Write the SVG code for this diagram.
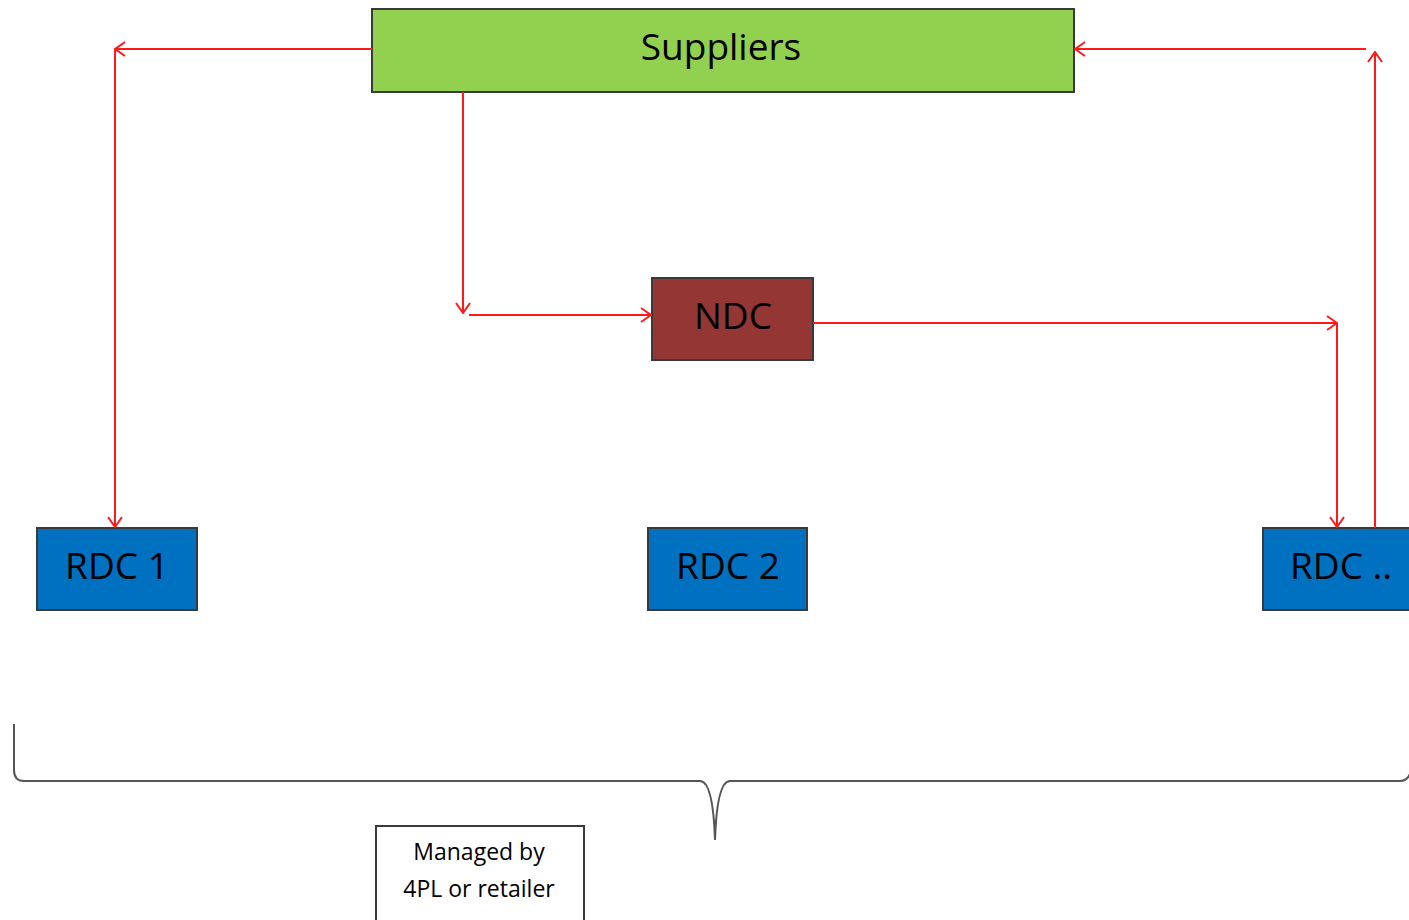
<svg xmlns="http://www.w3.org/2000/svg" width="1409" height="920" viewBox="0 0 1409 920">
<style>
.box{stroke:#3a3a3a;stroke-width:2}
.lbl{font-family:"Open Sans","Liberation Sans",sans-serif;font-size:37px;fill:#000;text-anchor:middle}
.small{font-family:"Open Sans","Liberation Sans",sans-serif;font-size:23px;fill:#000;text-anchor:middle}
.con{stroke:#FF1A1A;stroke-width:2;fill:none}
</style>
<defs>
<marker id="ah" viewBox="0 0 12 16" refX="11" refY="8" markerWidth="12" markerHeight="16" markerUnits="userSpaceOnUse" orient="auto">
<path d="M1,1 L11,8 L1,15" fill="none" stroke="#FF1A1A" stroke-width="2"/>
</marker>
</defs>
<rect width="1409" height="920" fill="#fff"/>
<g id="suppliers">
<rect class="box" x="372" y="9" width="702" height="83" fill="#92D050"/>
<text class="lbl" x="721" y="60">Suppliers</text>
</g>
<g id="ndc">
<rect class="box" x="652" y="278" width="161" height="82" fill="#943634"/>
<text class="lbl" x="733" y="329">NDC</text>
</g>
<g id="rdc1">
<rect class="box" x="37" y="528" width="160" height="82" fill="#0070C0"/>
<text class="lbl" x="117" y="579">RDC 1</text>
</g>
<g id="rdc2">
<rect class="box" x="648" y="528" width="159" height="82" fill="#0070C0"/>
<text class="lbl" x="728" y="579">RDC 2</text>
</g>
<g id="rdcn">
<rect class="box" x="1263" y="528" width="160" height="82" fill="#0070C0"/>
<text class="lbl" x="1341" y="579">RDC ..</text>
</g>
<g id="managed">
<rect x="376" y="826" width="208" height="100" fill="#fff" stroke="#3a3a3a" stroke-width="2"/>
<text class="small" x="479" y="860">Managed by</text>
<text class="small" x="479" y="897">4PL or retailer</text>
</g>
<g id="brace">
<path d="M14,724 L14,770 Q14,781 24,781 L700,781 Q713,781 715,840 Q717,781 730,781 L1400,781 Q1409,781 1411,770" fill="none" stroke="#555" stroke-width="2"/>
</g>
<g id="connectors">
<line class="con" x1="372" y1="49" x2="115" y2="49" marker-end="url(#ah)"/>
<line class="con" x1="115" y1="49" x2="115" y2="527" marker-end="url(#ah)"/>
<line class="con" x1="463" y1="92" x2="463" y2="313" marker-end="url(#ah)"/>
<line class="con" x1="469" y1="315" x2="651" y2="315" marker-end="url(#ah)"/>
<line class="con" x1="813" y1="323" x2="1337" y2="323" marker-end="url(#ah)"/>
<line class="con" x1="1337" y1="323" x2="1337" y2="527" marker-end="url(#ah)"/>
<line class="con" x1="1375" y1="528" x2="1375" y2="52" marker-end="url(#ah)"/>
<line class="con" x1="1366" y1="49" x2="1075" y2="49" marker-end="url(#ah)"/>
</g>
</svg>
